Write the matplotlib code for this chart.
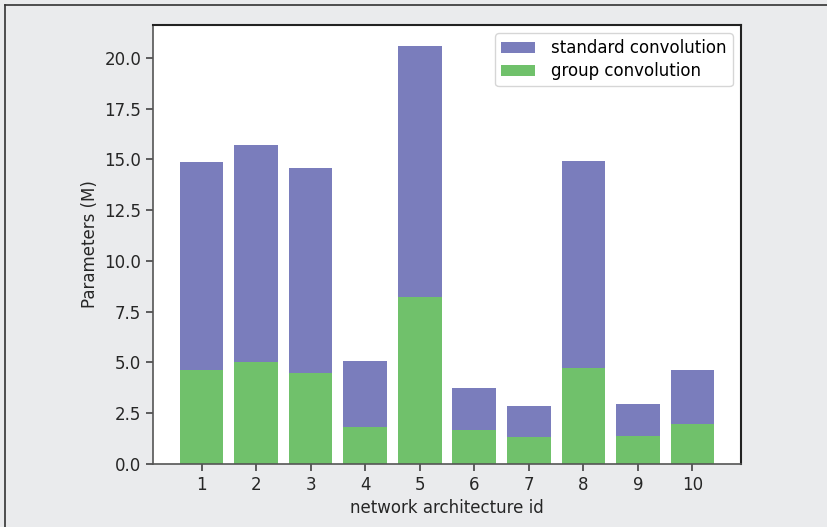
import matplotlib.pyplot as plt
from matplotlib.lines import Line2D

# parameter counts (millions) for each network architecture
arch_ids = [1, 2, 3, 4, 5, 6, 7, 8, 9, 10]
standard_params = [14.88, 15.71, 14.58, 5.07, 20.59, 3.74, 2.86, 14.93, 2.96, 4.63]
group_params = [4.63, 5.02, 4.48, 1.82, 8.23, 1.67, 1.33, 4.73, 1.38, 1.97]

plt.rcParams['font.size'] = 12

fig = plt.figure(figsize=(8.27, 5.27), dpi=100)
fig.patch.set_facecolor('#eaebed')
ax = fig.add_axes([0.185, 0.1195, 0.711, 0.833])

ax.bar(arch_ids, standard_params, color='#7a7dbc', label='standard convolution')
ax.bar(arch_ids, group_params, color='#70c16b', label='group convolution')

ax.set_xticks(arch_ids)
ax.set_xlabel('network architecture id', color='#262626')
ax.set_ylabel('Parameters (M)', color='#262626')
ax.tick_params(colors='#444444', labelcolor='#262626', length=5, width=1.2)

for side in ['left', 'bottom']:
    ax.spines[side].set_color('#555555')
    ax.spines[side].set_linewidth(1.2)
for side in ['top', 'right']:
    ax.spines[side].set_color('#222222')
    ax.spines[side].set_linewidth(1.5)

ax.legend(loc='upper right', fontsize=12, labelspacing=0.3, handletextpad=1.0,
          borderpad=0.35)

# frame lines along the left and top of the figure
fig.add_artist(Line2D([0.0065, 0.0065], [0, 0.991], transform=fig.transFigure, color='#333333', lw=1.2))
fig.add_artist(Line2D([0.0065, 1], [0.991, 0.991], transform=fig.transFigure, color='#333333', lw=1.2))

fig.savefig('out.png', dpi=100, facecolor=fig.get_facecolor())
